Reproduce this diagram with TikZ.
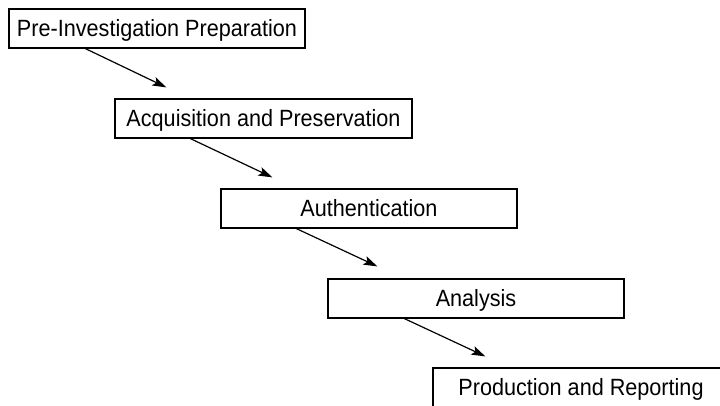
\documentclass[tikz,border=0pt]{standalone}
\usepackage{fontspec}
\setmainfont[FakeStretch=0.92]{Liberation Sans}
\usetikzlibrary{arrows.meta,calc}
\begin{document}
\begin{tikzpicture}[x=1pt,y=-1pt,
  stepbox/.style={draw=black,line width=1.2pt,fill=white,minimum width=296pt,minimum height=39pt,
    inner sep=0pt,text height=16.8pt,text depth=0pt,font=\fontsize{23.5}{28}\selectfont},
  flow/.style={line width=1.2pt,-{Stealth[length=14pt,width=9pt,inset=3pt]}}]
\useasboundingbox (0,0) rectangle (720,405);
\node[stepbox] (b1) at (157,28.5) {Pre-Investigation Preparation};
\node[stepbox,minimum width=297pt] (b2) at (263.5,118.5) {Acquisition and Preservation};
\node[stepbox] (b3) at (369,208.5) {Authentication};
\node[stepbox] (b4) at (476,298.5) {Analysis};
\node[stepbox] (b5) at (581,387.5) {Production and Reporting};
\coordinate (e1) at ($(b2.north west)+(52,-11)$);
\coordinate (e2) at ($(b3.north west)+(52,-11)$);
\coordinate (e3) at ($(b4.north west)+(50,-12)$);
\coordinate (e4) at ($(b5.north west)+(53,-11)$);
\draw[flow] ($(b1.south west)+(77,0)$) -- (e1);
\draw[flow] ($(b2.south west)+(76,0)$) -- (e2);
\draw[flow] ($(b3.south west)+(76,0)$) -- (e3);
\draw[flow] ($(b4.south west)+(77,0)$) -- (e4);
\end{tikzpicture}
\end{document}
